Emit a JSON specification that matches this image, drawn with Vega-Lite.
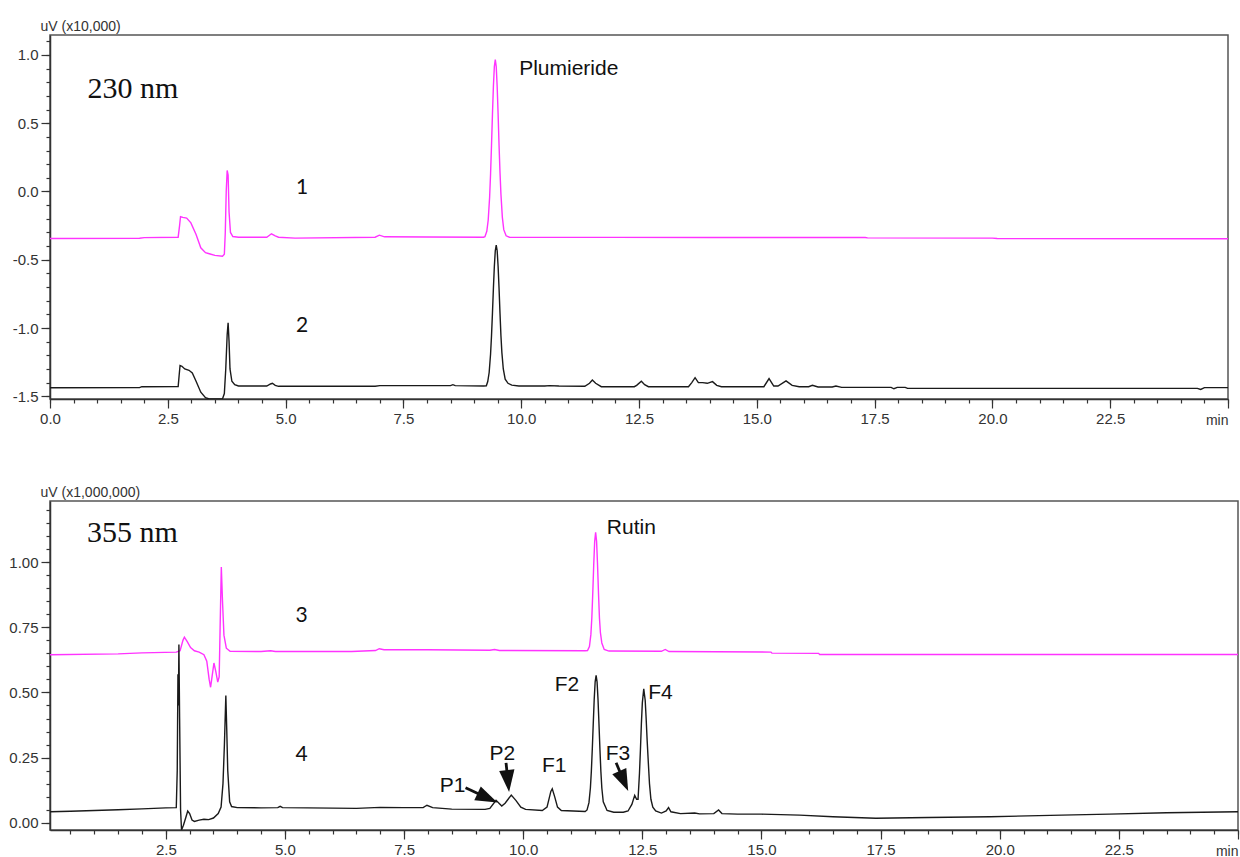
{
  "$schema": "https://vega.github.io/schema/vega-lite/v6.json",
  "padding": {"left": 8, "top": 18, "right": 0, "bottom": 0},
  "spacing": 56,
  "datasets": {
    "top": [
      {"trace":"1","t":0,"v":-0.345},{"trace":"1","t":1.9,"v":-0.343},{"trace":"1","t":2.0,"v":-0.338},{"trace":"1","t":2.72,"v":-0.335},{"trace":"1","t":2.75,"v":-0.25},{"trace":"1","t":2.77,"v":-0.185},{"trace":"1","t":2.82,"v":-0.19},{"trace":"1","t":2.9,"v":-0.195},{"trace":"1","t":2.99,"v":-0.23},{"trace":"1","t":3.1,"v":-0.315},{"trace":"1","t":3.2,"v":-0.413},{"trace":"1","t":3.3,"v":-0.448},{"trace":"1","t":3.38,"v":-0.456},{"trace":"1","t":3.5,"v":-0.468},{"trace":"1","t":3.66,"v":-0.474},{"trace":"1","t":3.7,"v":-0.46},{"trace":"1","t":3.72,"v":-0.3},{"trace":"1","t":3.74,"v":0.0},{"trace":"1","t":3.76,"v":0.154},{"trace":"1","t":3.78,"v":0.12},{"trace":"1","t":3.8,"v":-0.15},{"trace":"1","t":3.83,"v":-0.3},{"trace":"1","t":3.88,"v":-0.33},{"trace":"1","t":4.0,"v":-0.335},{"trace":"1","t":4.6,"v":-0.335},{"trace":"1","t":4.7,"v":-0.31},{"trace":"1","t":4.78,"v":-0.325},{"trace":"1","t":4.85,"v":-0.335},{"trace":"1","t":5.2,"v":-0.342},{"trace":"1","t":6.9,"v":-0.335},{"trace":"1","t":6.99,"v":-0.32},{"trace":"1","t":7.1,"v":-0.332},{"trace":"1","t":8.0,"v":-0.333},{"trace":"1","t":9.2,"v":-0.335},{"trace":"1","t":9.23,"v":-0.331},{"trace":"1","t":9.27,"v":-0.292},{"trace":"1","t":9.3,"v":-0.209},{"trace":"1","t":9.33,"v":-0.04},{"trace":"1","t":9.35,"v":0.13},{"trace":"1","t":9.37,"v":0.339},{"trace":"1","t":9.39,"v":0.565},{"trace":"1","t":9.41,"v":0.769},{"trace":"1","t":9.43,"v":0.914},{"trace":"1","t":9.45,"v":0.966},{"trace":"1","t":9.47,"v":0.914},{"trace":"1","t":9.49,"v":0.769},{"trace":"1","t":9.51,"v":0.565},{"trace":"1","t":9.53,"v":0.339},{"trace":"1","t":9.55,"v":0.14},{"trace":"1","t":9.57,"v":-0.02},{"trace":"1","t":9.6,"v":-0.19},{"trace":"1","t":9.63,"v":-0.28},{"trace":"1","t":9.68,"v":-0.325},{"trace":"1","t":9.75,"v":-0.335},{"trace":"1","t":10,"v":-0.336},{"trace":"1","t":12,"v":-0.336},{"trace":"1","t":14,"v":-0.337},{"trace":"1","t":17.3,"v":-0.337},{"trace":"1","t":17.35,"v":-0.34},{"trace":"1","t":20,"v":-0.342},{"trace":"1","t":20.1,"v":-0.345},{"trace":"1","t":25,"v":-0.346},
      {"trace":"2","t":0,"v":-1.438},{"trace":"2","t":1.9,"v":-1.437},{"trace":"2","t":1.95,"v":-1.43},{"trace":"2","t":2.72,"v":-1.428},{"trace":"2","t":2.74,"v":-1.35},{"trace":"2","t":2.76,"v":-1.274},{"trace":"2","t":2.8,"v":-1.28},{"trace":"2","t":2.86,"v":-1.3},{"trace":"2","t":2.95,"v":-1.31},{"trace":"2","t":3.02,"v":-1.33},{"trace":"2","t":3.1,"v":-1.39},{"trace":"2","t":3.2,"v":-1.47},{"trace":"2","t":3.3,"v":-1.51},{"trace":"2","t":3.38,"v":-1.52},{"trace":"2","t":3.66,"v":-1.52},{"trace":"2","t":3.7,"v":-1.48},{"trace":"2","t":3.73,"v":-1.3},{"trace":"2","t":3.76,"v":-1.05},{"trace":"2","t":3.78,"v":-0.962},{"trace":"2","t":3.8,"v":-1.1},{"trace":"2","t":3.82,"v":-1.3},{"trace":"2","t":3.86,"v":-1.39},{"trace":"2","t":3.92,"v":-1.415},{"trace":"2","t":4.0,"v":-1.425},{"trace":"2","t":4.6,"v":-1.425},{"trace":"2","t":4.68,"v":-1.41},{"trace":"2","t":4.72,"v":-1.405},{"trace":"2","t":4.78,"v":-1.42},{"trace":"2","t":4.85,"v":-1.427},{"trace":"2","t":6.9,"v":-1.427},{"trace":"2","t":7.0,"v":-1.422},{"trace":"2","t":8.5,"v":-1.422},{"trace":"2","t":8.55,"v":-1.415},{"trace":"2","t":8.6,"v":-1.422},{"trace":"2","t":9.2,"v":-1.425},{"trace":"2","t":9.26,"v":-1.423},{"trace":"2","t":9.29,"v":-1.392},{"trace":"2","t":9.32,"v":-1.326},{"trace":"2","t":9.35,"v":-1.191},{"trace":"2","t":9.37,"v":-1.057},{"trace":"2","t":9.39,"v":-0.891},{"trace":"2","t":9.41,"v":-0.711},{"trace":"2","t":9.43,"v":-0.55},{"trace":"2","t":9.45,"v":-0.434},{"trace":"2","t":9.47,"v":-0.393},{"trace":"2","t":9.49,"v":-0.434},{"trace":"2","t":9.51,"v":-0.55},{"trace":"2","t":9.53,"v":-0.711},{"trace":"2","t":9.55,"v":-0.891},{"trace":"2","t":9.57,"v":-1.057},{"trace":"2","t":9.59,"v":-1.18},{"trace":"2","t":9.62,"v":-1.3},{"trace":"2","t":9.66,"v":-1.375},{"trace":"2","t":9.72,"v":-1.405},{"trace":"2","t":9.8,"v":-1.418},{"trace":"2","t":9.95,"v":-1.425},{"trace":"2","t":10.5,"v":-1.425},{"trace":"2","t":10.6,"v":-1.422},{"trace":"2","t":10.8,"v":-1.425},{"trace":"2","t":11.35,"v":-1.427},{"trace":"2","t":11.45,"v":-1.405},{"trace":"2","t":11.51,"v":-1.381},{"trace":"2","t":11.58,"v":-1.405},{"trace":"2","t":11.7,"v":-1.43},{"trace":"2","t":12.4,"v":-1.43},{"trace":"2","t":12.45,"v":-1.42},{"trace":"2","t":12.55,"v":-1.39},{"trace":"2","t":12.62,"v":-1.415},{"trace":"2","t":12.7,"v":-1.43},{"trace":"2","t":13.55,"v":-1.43},{"trace":"2","t":13.62,"v":-1.4},{"trace":"2","t":13.69,"v":-1.364},{"trace":"2","t":13.76,"v":-1.4},{"trace":"2","t":13.85,"v":-1.4},{"trace":"2","t":13.95,"v":-1.405},{"trace":"2","t":14.06,"v":-1.393},{"trace":"2","t":14.15,"v":-1.42},{"trace":"2","t":14.25,"v":-1.43},{"trace":"2","t":15.15,"v":-1.43},{"trace":"2","t":15.26,"v":-1.37},{"trace":"2","t":15.36,"v":-1.425},{"trace":"2","t":15.45,"v":-1.425},{"trace":"2","t":15.62,"v":-1.387},{"trace":"2","t":15.75,"v":-1.42},{"trace":"2","t":15.9,"v":-1.43},{"trace":"2","t":16.1,"v":-1.43},{"trace":"2","t":16.18,"v":-1.42},{"trace":"2","t":16.3,"v":-1.432},{"trace":"2","t":16.6,"v":-1.432},{"trace":"2","t":16.68,"v":-1.425},{"trace":"2","t":16.8,"v":-1.435},{"trace":"2","t":17.85,"v":-1.435},{"trace":"2","t":17.91,"v":-1.445},{"trace":"2","t":17.98,"v":-1.435},{"trace":"2","t":18.15,"v":-1.435},{"trace":"2","t":18.2,"v":-1.442},{"trace":"2","t":24.35,"v":-1.442},{"trace":"2","t":24.42,"v":-1.45},{"trace":"2","t":24.5,"v":-1.437},{"trace":"2","t":25,"v":-1.437}
    ],
    "bot": [
      {"trace":"3","t":0.07,"v":0.645},{"trace":"3","t":1.5,"v":0.648},{"trace":"3","t":2.0,"v":0.652},{"trace":"3","t":2.72,"v":0.655},{"trace":"3","t":2.8,"v":0.66},{"trace":"3","t":2.86,"v":0.7},{"trace":"3","t":2.89,"v":0.712},{"trace":"3","t":2.95,"v":0.695},{"trace":"3","t":3.02,"v":0.672},{"trace":"3","t":3.1,"v":0.66},{"trace":"3","t":3.2,"v":0.655},{"trace":"3","t":3.3,"v":0.645},{"trace":"3","t":3.36,"v":0.62},{"trace":"3","t":3.41,"v":0.55},{"trace":"3","t":3.44,"v":0.52},{"trace":"3","t":3.47,"v":0.56},{"trace":"3","t":3.51,"v":0.613},{"trace":"3","t":3.55,"v":0.58},{"trace":"3","t":3.59,"v":0.54},{"trace":"3","t":3.62,"v":0.56},{"trace":"3","t":3.64,"v":0.75},{"trace":"3","t":3.665,"v":0.982},{"trace":"3","t":3.69,"v":0.85},{"trace":"3","t":3.72,"v":0.72},{"trace":"3","t":3.77,"v":0.67},{"trace":"3","t":3.85,"v":0.658},{"trace":"3","t":4.5,"v":0.657},{"trace":"3","t":4.7,"v":0.66},{"trace":"3","t":4.8,"v":0.657},{"trace":"3","t":6.4,"v":0.657},{"trace":"3","t":6.9,"v":0.661},{"trace":"3","t":6.98,"v":0.668},{"trace":"3","t":7.08,"v":0.664},{"trace":"3","t":8.0,"v":0.664},{"trace":"3","t":9.3,"v":0.662},{"trace":"3","t":9.4,"v":0.665},{"trace":"3","t":9.5,"v":0.661},{"trace":"3","t":11.3,"v":0.66},{"trace":"3","t":11.35,"v":0.661},{"trace":"3","t":11.39,"v":0.676},{"trace":"3","t":11.42,"v":0.722},{"trace":"3","t":11.44,"v":0.786},{"trace":"3","t":11.46,"v":0.882},{"trace":"3","t":11.48,"v":0.99},{"trace":"3","t":11.5,"v":1.08},{"trace":"3","t":11.52,"v":1.115},{"trace":"3","t":11.54,"v":1.08},{"trace":"3","t":11.56,"v":0.99},{"trace":"3","t":11.58,"v":0.882},{"trace":"3","t":11.6,"v":0.786},{"trace":"3","t":11.62,"v":0.73},{"trace":"3","t":11.65,"v":0.69},{"trace":"3","t":11.7,"v":0.665},{"trace":"3","t":11.8,"v":0.659},{"trace":"3","t":12.9,"v":0.658},{"trace":"3","t":12.98,"v":0.665},{"trace":"3","t":13.06,"v":0.657},{"trace":"3","t":15.2,"v":0.655},{"trace":"3","t":15.22,"v":0.651},{"trace":"3","t":16.2,"v":0.65},{"trace":"3","t":16.22,"v":0.646},{"trace":"3","t":25,"v":0.646},
      {"trace":"4","t":0.07,"v":0.042},{"trace":"4","t":0.5,"v":0.044},{"trace":"4","t":1.0,"v":0.047},{"trace":"4","t":1.5,"v":0.05},{"trace":"4","t":2.0,"v":0.053},{"trace":"4","t":2.5,"v":0.057},{"trace":"4","t":2.72,"v":0.058},{"trace":"4","t":2.74,"v":0.2},{"trace":"4","t":2.755,"v":0.57},{"trace":"4","t":2.765,"v":0.45},{"trace":"4","t":2.775,"v":0.684},{"trace":"4","t":2.79,"v":0.4},{"trace":"4","t":2.81,"v":0.05},{"trace":"4","t":2.83,"v":-0.028},{"trace":"4","t":2.87,"v":-0.01},{"trace":"4","t":2.92,"v":0.02},{"trace":"4","t":2.96,"v":0.045},{"trace":"4","t":3.0,"v":0.035},{"trace":"4","t":3.05,"v":0.01},{"trace":"4","t":3.1,"v":0.005},{"trace":"4","t":3.2,"v":0.01},{"trace":"4","t":3.3,"v":0.013},{"trace":"4","t":3.4,"v":0.012},{"trace":"4","t":3.5,"v":0.018},{"trace":"4","t":3.6,"v":0.035},{"trace":"4","t":3.66,"v":0.06},{"trace":"4","t":3.7,"v":0.15},{"trace":"4","t":3.73,"v":0.3},{"trace":"4","t":3.76,"v":0.488},{"trace":"4","t":3.78,"v":0.35},{"trace":"4","t":3.8,"v":0.2},{"trace":"4","t":3.84,"v":0.08},{"trace":"4","t":3.88,"v":0.062},{"trace":"4","t":4.0,"v":0.058},{"trace":"4","t":4.5,"v":0.057},{"trace":"4","t":4.85,"v":0.058},{"trace":"4","t":4.9,"v":0.063},{"trace":"4","t":4.95,"v":0.058},{"trace":"4","t":6.0,"v":0.056},{"trace":"4","t":6.5,"v":0.055},{"trace":"4","t":7.0,"v":0.059},{"trace":"4","t":7.5,"v":0.058},{"trace":"4","t":7.9,"v":0.058},{"trace":"4","t":7.98,"v":0.067},{"trace":"4","t":8.1,"v":0.058},{"trace":"4","t":8.5,"v":0.052},{"trace":"4","t":9.2,"v":0.051},{"trace":"4","t":9.3,"v":0.055},{"trace":"4","t":9.43,"v":0.086},{"trace":"4","t":9.55,"v":0.064},{"trace":"4","t":9.62,"v":0.075},{"trace":"4","t":9.75,"v":0.106},{"trace":"4","t":9.85,"v":0.085},{"trace":"4","t":9.95,"v":0.06},{"trace":"4","t":10.05,"v":0.051},{"trace":"4","t":10.4,"v":0.047},{"trace":"4","t":10.5,"v":0.06},{"trace":"4","t":10.58,"v":0.12},{"trace":"4","t":10.61,"v":0.13},{"trace":"4","t":10.66,"v":0.1},{"trace":"4","t":10.72,"v":0.06},{"trace":"4","t":10.8,"v":0.047},{"trace":"4","t":11.3,"v":0.043},{"trace":"4","t":11.34,"v":0.049},{"trace":"4","t":11.38,"v":0.077},{"trace":"4","t":11.41,"v":0.133},{"trace":"4","t":11.43,"v":0.197},{"trace":"4","t":11.45,"v":0.283},{"trace":"4","t":11.47,"v":0.38},{"trace":"4","t":11.49,"v":0.473},{"trace":"4","t":11.51,"v":0.541},{"trace":"4","t":11.53,"v":0.566},{"trace":"4","t":11.55,"v":0.541},{"trace":"4","t":11.57,"v":0.473},{"trace":"4","t":11.59,"v":0.38},{"trace":"4","t":11.61,"v":0.283},{"trace":"4","t":11.63,"v":0.197},{"trace":"4","t":11.65,"v":0.133},{"trace":"4","t":11.68,"v":0.08},{"trace":"4","t":11.76,"v":0.047},{"trace":"4","t":11.9,"v":0.04},{"trace":"4","t":12.1,"v":0.04},{"trace":"4","t":12.2,"v":0.045},{"trace":"4","t":12.28,"v":0.07},{"trace":"4","t":12.34,"v":0.105},{"trace":"4","t":12.38,"v":0.09},{"trace":"4","t":12.41,"v":0.09},{"trace":"4","t":12.44,"v":0.19},{"trace":"4","t":12.46,"v":0.28},{"trace":"4","t":12.48,"v":0.38},{"trace":"4","t":12.5,"v":0.46},{"trace":"4","t":12.53,"v":0.514},{"trace":"4","t":12.56,"v":0.47},{"trace":"4","t":12.58,"v":0.4},{"trace":"4","t":12.6,"v":0.32},{"trace":"4","t":12.62,"v":0.25},{"trace":"4","t":12.65,"v":0.15},{"trace":"4","t":12.68,"v":0.09},{"trace":"4","t":12.72,"v":0.06},{"trace":"4","t":12.78,"v":0.045},{"trace":"4","t":12.9,"v":0.037},{"trace":"4","t":13.0,"v":0.045},{"trace":"4","t":13.05,"v":0.058},{"trace":"4","t":13.1,"v":0.042},{"trace":"4","t":13.3,"v":0.035},{"trace":"4","t":13.6,"v":0.037},{"trace":"4","t":13.7,"v":0.034},{"trace":"4","t":14.0,"v":0.035},{"trace":"4","t":14.1,"v":0.049},{"trace":"4","t":14.17,"v":0.035},{"trace":"4","t":14.5,"v":0.033},{"trace":"4","t":15.0,"v":0.033},{"trace":"4","t":15.8,"v":0.029},{"trace":"4","t":16.5,"v":0.023},{"trace":"4","t":17.4,"v":0.017},{"trace":"4","t":18.5,"v":0.02},{"trace":"4","t":19.8,"v":0.023},{"trace":"4","t":21.3,"v":0.029},{"trace":"4","t":22.3,"v":0.033},{"trace":"4","t":23.5,"v":0.038},{"trace":"4","t":25,"v":0.042}
    ],
    "top_ann": [
      {"label":"230 nm","role":"wave","t":1.76,"v":0.75},
      {"label":"1","role":"num","t":5.35,"v":0.026},
      {"label":"2","role":"num","t":5.35,"v":-0.986},
      {"label":"Plumieride","role":"cmpd","t":11.01,"v":0.897}
    ],
    "bot_ann": [
      {"label":"355 nm","role":"wave","t":1.8,"v":1.112},
      {"label":"3","role":"num","t":5.35,"v":0.793},
      {"label":"4","role":"num","t":5.35,"v":0.258},
      {"label":"Rutin","role":"cmpd","t":12.27,"v":1.131},
      {"label":"P1","role":"peak","t":8.52,"v":0.141},
      {"label":"P2","role":"peak","t":9.56,"v":0.262},
      {"label":"F1","role":"peak","t":10.65,"v":0.217},
      {"label":"F2","role":"peak","t":10.92,"v":0.53},
      {"label":"F3","role":"peak","t":11.99,"v":0.262},
      {"label":"F4","role":"peak","t":12.88,"v":0.498}
    ],
    "arrows": [
      {"id":"P1","t":8.79,"v":0.134,"t2":9.25,"v2":0.095},
      {"id":"P2","t":9.64,"v":0.23,"t2":9.68,"v2":0.16},
      {"id":"F3","t":11.95,"v":0.23,"t2":12.11,"v2":0.16}
    ]
  },
  "vconcat": [
    {
      "width": 1178,
      "height": 364,
      "layer": [
        {
          "data": {"name": "top"},
          "mark": {"type": "line", "strokeWidth": 1.4, "clip": true},
          "encoding": {
            "x": {"field": "t", "type": "quantitative", "scale": {"domain": [0, 25], "nice": false, "zero": false},
              "axis": {"orient": "bottom", "values": [0, 2.5, 5, 7.5, 10, 12.5, 15, 17.5, 20, 22.5, 25], "labelExpr": "datum.value > 24.9 ? '' : format(datum.value, '.1f')", "tickSize": 9, "labelPadding": 3, "labelFlush": false, "labelOverlap": false, "title": "min", "titleX": 1178, "titleY": 21, "titleAlign": "right", "titleBaseline": "middle"}},
            "y": {"field": "v", "type": "quantitative", "scale": {"domain": [-1.52, 1.146], "nice": false, "zero": false},
              "axis": {"orient": "left", "values": [-1.5, -1, -0.5, 0, 0.5, 1], "labelExpr": "replace(format(datum.value, '.1f'), '\u2212', '-')", "tickSize": 9, "labelPadding": 3, "title": "uV (x10,000)", "titleAngle": 0, "titleX": -10, "titleY": -9, "titleAlign": "left", "titleBaseline": "middle"}},
            "color": {"field": "trace", "type": "nominal", "scale": {"domain": ["1", "2", "3", "4"], "range": ["#ff33ff", "#1a1a1a", "#ff33ff", "#1a1a1a"]}, "legend": null}
          }
        },
        {
          "data": {"name": "top_ann"},
          "transform": [{"filter": "datum.role === 'num'"}],
          "mark": {"type": "text", "font": "Lato", "fontSize": 21, "color": "#111"},
          "encoding": {
            "x": {"field": "t", "type": "quantitative", "scale": {"domain": [0, 25], "nice": false, "zero": false},
              "axis": {"orient": "bottom", "values": [0,0.5,1,1.5,2,2.5,3,3.5,4,4.5,5,5.5,6,6.5,7,7.5,8,8.5,9,9.5,10,10.5,11,11.5,12,12.5,13,13.5,14,14.5,15,15.5,16,16.5,17,17.5,18,18.5,19,19.5,20,20.5,21,21.5,22,22.5,23,23.5,24,24.5,25], "labels": false, "domain": false, "tickSize": 4, "title": null}},
            "y": {"field": "v", "type": "quantitative", "scale": {"domain": [-1.52, 1.146], "nice": false, "zero": false},
              "axis": {"orient": "left", "values": [-1.5,-1.4,-1.3,-1.2,-1.1,-1,-0.9,-0.8,-0.7,-0.6,-0.5,-0.4,-0.3,-0.2,-0.1,0,0.1,0.2,0.3,0.4,0.5,0.6,0.7,0.8,0.9,1,1.1], "labels": false, "domain": false, "tickSize": 4, "title": null}},
            "text": {"field": "label"}
          }
        },
        {
          "data": {"name": "top_ann"},
          "transform": [{"filter": "datum.role === 'wave'"}],
          "mark": {"type": "text", "font": "Liberation Serif", "fontSize": 30, "color": "#111"},
          "encoding": {
            "x": {"field": "t", "type": "quantitative", "scale": {"domain": [0, 25], "nice": false, "zero": false}, "axis": null},
            "y": {"field": "v", "type": "quantitative", "scale": {"domain": [-1.52, 1.146], "nice": false, "zero": false}, "axis": null},
            "text": {"field": "label"}
          }
        },
        {
          "data": {"name": "top_ann"},
          "transform": [{"filter": "datum.role === 'cmpd'"}],
          "mark": {"type": "text", "font": "Liberation Sans", "fontSize": 21, "color": "#111"},
          "encoding": {
            "x": {"field": "t", "type": "quantitative", "scale": {"domain": [0, 25], "nice": false, "zero": false}, "axis": null},
            "y": {"field": "v", "type": "quantitative", "scale": {"domain": [-1.52, 1.146], "nice": false, "zero": false}, "axis": null},
            "text": {"field": "label"}
          }
        }
      ],
      "resolve": {"axis": {"x": "independent", "y": "independent"}}
    },
    {
      "width": 1188,
      "height": 329,
      "layer": [
        {
          "data": {"name": "bot"},
          "mark": {"type": "line", "strokeWidth": 1.4, "clip": true},
          "encoding": {
            "x": {"field": "t", "type": "quantitative", "scale": {"domain": [0.07, 25], "nice": false, "zero": false},
              "axis": {"orient": "bottom", "values": [2.5, 5, 7.5, 10, 12.5, 15, 17.5, 20, 22.5, 25], "labelExpr": "datum.value > 24.9 ? '' : format(datum.value, '.1f')", "tickSize": 9, "labelPadding": 3, "labelFlush": false, "labelOverlap": false, "title": "min", "titleX": 1188, "titleY": 21, "titleAlign": "right", "titleBaseline": "middle"}},
            "y": {"field": "v", "type": "quantitative", "scale": {"domain": [-0.028, 1.235], "nice": false, "zero": false},
              "axis": {"orient": "left", "values": [0, 0.25, 0.5, 0.75, 1], "format": ".2f", "tickSize": 9, "labelPadding": 3, "title": "uV (x1,000,000)", "titleAngle": 0, "titleX": -10, "titleY": -9, "titleAlign": "left", "titleBaseline": "middle"}},
            "color": {"field": "trace", "type": "nominal", "scale": {"domain": ["1", "2", "3", "4"], "range": ["#ff33ff", "#1a1a1a", "#ff33ff", "#1a1a1a"]}, "legend": null}
          }
        },
        {
          "data": {"name": "bot_ann"},
          "transform": [{"filter": "datum.role === 'num'"}],
          "mark": {"type": "text", "font": "Lato", "fontSize": 21, "color": "#111"},
          "encoding": {
            "x": {"field": "t", "type": "quantitative", "scale": {"domain": [0.07, 25], "nice": false, "zero": false},
              "axis": {"orient": "bottom", "values": [0.5,1,1.5,2,2.5,3,3.5,4,4.5,5,5.5,6,6.5,7,7.5,8,8.5,9,9.5,10,10.5,11,11.5,12,12.5,13,13.5,14,14.5,15,15.5,16,16.5,17,17.5,18,18.5,19,19.5,20,20.5,21,21.5,22,22.5,23,23.5,24,24.5,25], "labels": false, "domain": false, "tickSize": 4, "title": null}},
            "y": {"field": "v", "type": "quantitative", "scale": {"domain": [-0.028, 1.235], "nice": false, "zero": false},
              "axis": {"orient": "left", "values": [0,0.05,0.1,0.15,0.2,0.25,0.3,0.35,0.4,0.45,0.5,0.55,0.6,0.65,0.7,0.75,0.8,0.85,0.9,0.95,1,1.05,1.1,1.15,1.2], "labels": false, "domain": false, "tickSize": 4, "title": null}},
            "text": {"field": "label"}
          }
        },
        {
          "data": {"name": "bot_ann"},
          "transform": [{"filter": "datum.role === 'wave'"}],
          "mark": {"type": "text", "font": "Liberation Serif", "fontSize": 30, "color": "#111"},
          "encoding": {
            "x": {"field": "t", "type": "quantitative", "scale": {"domain": [0.07, 25], "nice": false, "zero": false}, "axis": null},
            "y": {"field": "v", "type": "quantitative", "scale": {"domain": [-0.028, 1.235], "nice": false, "zero": false}, "axis": null},
            "text": {"field": "label"}
          }
        },
        {
          "data": {"name": "bot_ann"},
          "transform": [{"filter": "datum.role === 'cmpd' || datum.role === 'peak'"}],
          "mark": {"type": "text", "font": "Liberation Sans", "fontSize": 21, "color": "#111"},
          "encoding": {
            "x": {"field": "t", "type": "quantitative", "scale": {"domain": [0.07, 25], "nice": false, "zero": false}, "axis": null},
            "y": {"field": "v", "type": "quantitative", "scale": {"domain": [-0.028, 1.235], "nice": false, "zero": false}, "axis": null},
            "text": {"field": "label"}
          }
        },
        {
          "data": {"name": "arrows"},
          "mark": {"type": "rule", "strokeWidth": 2.8, "color": "#111"},
          "encoding": {
            "x": {"field": "t", "type": "quantitative", "scale": {"domain": [0.07, 25], "nice": false, "zero": false}, "axis": null},
            "y": {"field": "v", "type": "quantitative", "scale": {"domain": [-0.028, 1.235], "nice": false, "zero": false}, "axis": null},
            "x2": {"field": "t2"},
            "y2": {"field": "v2"}
          }
        },
        {
          "data": {"name": "arrows"},
          "transform": [{"filter": "datum.id === 'P1'"}],
          "mark": {"type": "point", "shape": "M0,-1L0.7,1L-0.7,1Z", "filled": true, "size": 480, "angle": 115, "color": "#111", "opacity": 1},
          "encoding": {
            "x": {"field": "t2", "type": "quantitative", "scale": {"domain": [0.07, 25], "nice": false, "zero": false}, "axis": null},
            "y": {"field": "v2", "type": "quantitative", "scale": {"domain": [-0.028, 1.235], "nice": false, "zero": false}, "axis": null}
          }
        },
        {
          "data": {"name": "arrows"},
          "transform": [{"filter": "datum.id === 'P2'"}],
          "mark": {"type": "point", "shape": "M0,-1L0.7,1L-0.7,1Z", "filled": true, "size": 480, "angle": 174, "color": "#111", "opacity": 1},
          "encoding": {
            "x": {"field": "t2", "type": "quantitative", "scale": {"domain": [0.07, 25], "nice": false, "zero": false}, "axis": null},
            "y": {"field": "v2", "type": "quantitative", "scale": {"domain": [-0.028, 1.235], "nice": false, "zero": false}, "axis": null}
          }
        },
        {
          "data": {"name": "arrows"},
          "transform": [{"filter": "datum.id === 'F3'"}],
          "mark": {"type": "point", "shape": "M0,-1L0.7,1L-0.7,1Z", "filled": true, "size": 480, "angle": 156, "color": "#111", "opacity": 1},
          "encoding": {
            "x": {"field": "t2", "type": "quantitative", "scale": {"domain": [0.07, 25], "nice": false, "zero": false}, "axis": null},
            "y": {"field": "v2", "type": "quantitative", "scale": {"domain": [-0.028, 1.235], "nice": false, "zero": false}, "axis": null}
          }
        }
      ],
      "resolve": {"axis": {"x": "independent", "y": "independent"}}
    }
  ],
  "config": {
    "view": {"stroke": "#555", "strokeWidth": 1.5},
    "axis": {"grid": false, "labelFont": "Liberation Sans", "labelFontSize": 15, "labelColor": "#333", "tickColor": "#333", "tickWidth": 1.2, "domainColor": "#333", "domainWidth": 1.5, "titleFont": "Liberation Sans", "titleFontSize": 14, "titleFontWeight": "normal", "titleColor": "#333"}
  }
}
